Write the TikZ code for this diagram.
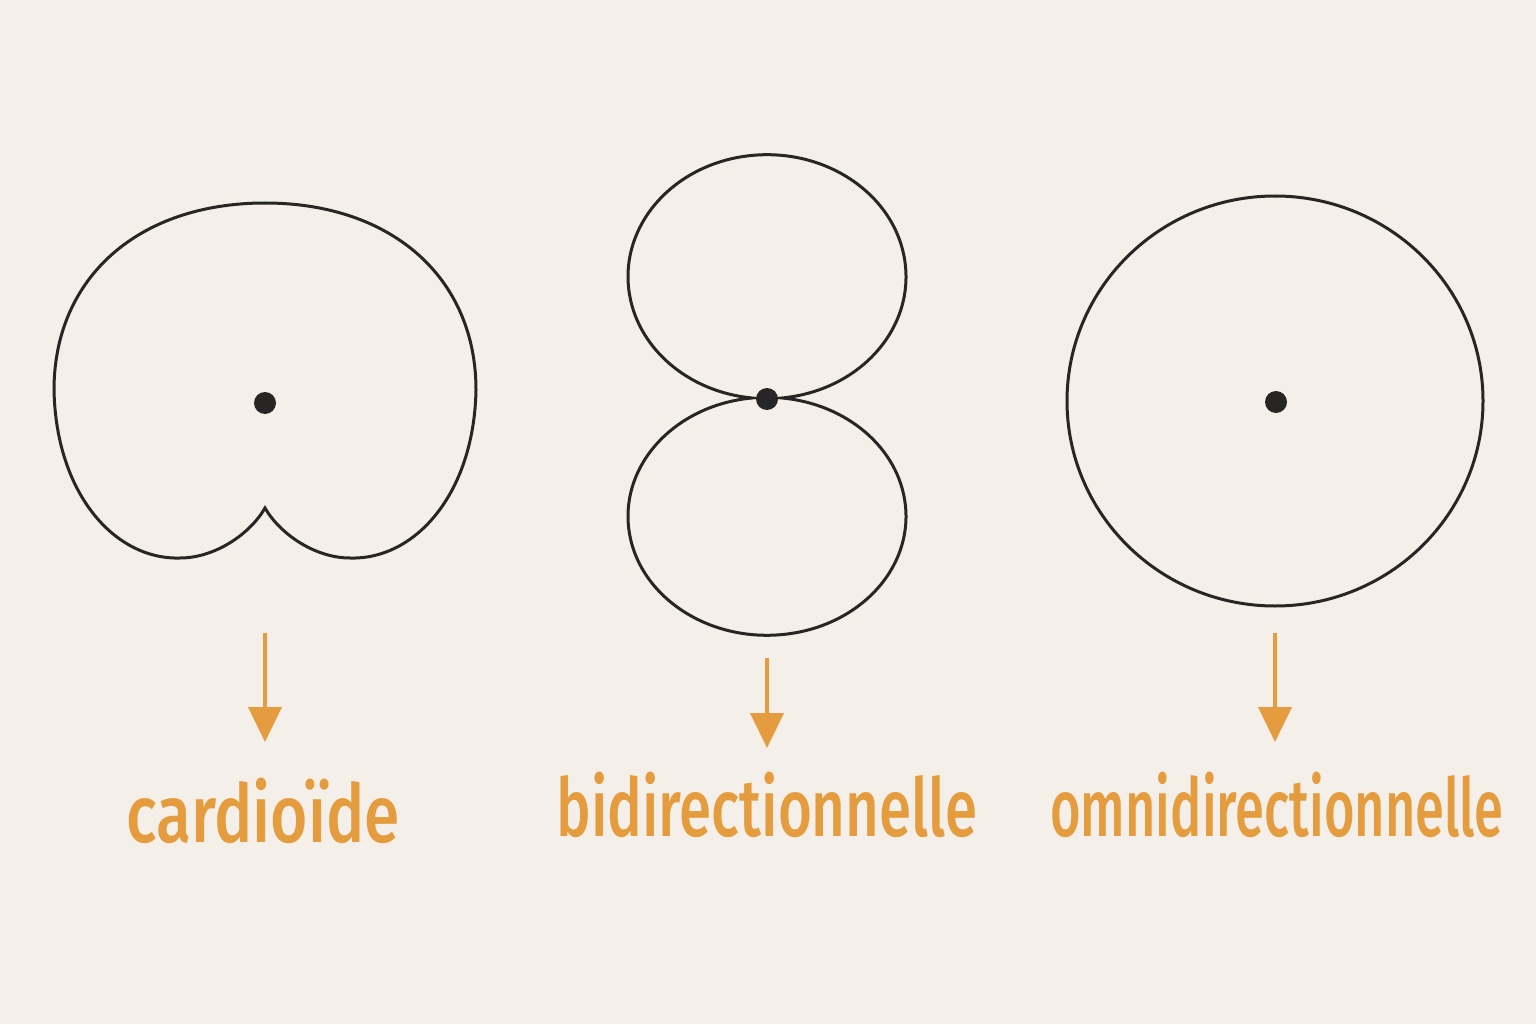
\documentclass[tikz,border=0pt]{standalone}
\usepackage{fontspec}
\usepackage{tikz}
\usetikzlibrary{arrows.meta,positioning,calc}
\newfontfamily\labelfont[FakeStretch=0.72]{Fira Sans Medium}
\definecolor{paper}{RGB}{244,239,232}
\definecolor{ink}{RGB}{40,38,36}
\definecolor{amber}{RGB}{228,156,62}

\begin{document}
\begin{tikzpicture}[
  pattern line/.style={draw=ink, line width=0.03cm},
  dot/.style={circle, fill=ink, inner sep=0pt, minimum size=0.22cm},
  down arrow/.style={draw=amber, line width=0.04cm, -{Triangle[length=0.35cm, width=0.33cm]}},
  pattern name/.style={anchor=base, text=amber, font=\labelfont\fontsize{23}{27}\selectfont}]

  % Background
  \fill[paper] (0,0) rectangle (15.36,10.24);
  \useasboundingbox (0,0) rectangle (15.36,10.24);

  % Cardioid
  \draw[pattern line] (2.65,5.16)
    .. controls (2.50,4.90) and (2.15,4.66) .. (1.80,4.66)
    .. controls (1.15,4.64) and (0.56,5.30) .. (0.54,6.34)
    .. controls (0.54,7.46) and (1.38,8.21) .. (2.65,8.21)
    .. controls (3.92,8.21) and (4.76,7.46) .. (4.76,6.34)
    .. controls (4.74,5.30) and (4.15,4.64) .. (3.50,4.66)
    .. controls (3.15,4.66) and (2.80,4.90) .. (2.65,5.16) -- cycle;
  \node[dot] (card) at (2.65,6.21) {};

  % Figure of eight
  \coordinate (eightR) at ($(7.67,7.473)+(-83.8:1.39 and 1.22)$);
  \draw[pattern line] (eightR)
    arc[start angle=-83.8, end angle=263.8, x radius=1.39, y radius=1.22]
    arc[start angle=96.2, end angle=443.8, x radius=1.39, y radius=1.19] -- cycle;
  \node[dot] (bidi) at (7.67,6.25) {};

  % Omni
  \draw[pattern line] (12.75,6.23) ellipse[x radius=2.08, y radius=2.05];
  \node[dot] (omni) at (12.76,6.22) {};

  % Arrows
  \coordinate (card top) at (2.65,3.91);
  \coordinate (card tip) at (2.65,2.82);
  \coordinate (bidi top) at (7.67,3.66);
  \coordinate (bidi tip) at (7.67,2.76);
  \coordinate (omni top) at (12.75,3.91);
  \coordinate (omni tip) at (12.75,2.82);
  \draw[down arrow] (card top) -- (card tip);
  \draw[down arrow] (bidi top) -- (bidi tip);
  \draw[down arrow] (omni top) -- (omni tip);

  % Labels
  \node[pattern name, xscale=1.10, transform shape] (card label) at (2.63,1.82) {cardioïde};
  \node[pattern name] (bidi label) at (7.67,1.88) {bidirectionnelle};
  \node[pattern name, xscale=0.90, transform shape] (omni label) at (12.77,1.88) {omnidirectionnelle};
\end{tikzpicture}
\end{document}
